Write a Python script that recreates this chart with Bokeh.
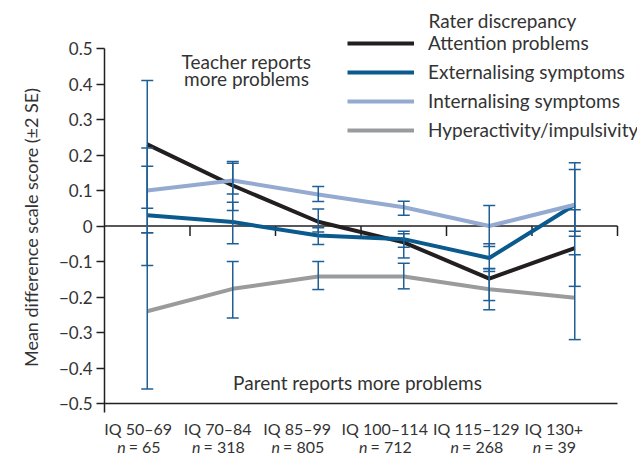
from bokeh.plotting import figure
from bokeh.models import Range1d, FixedTicker, Legend, LegendItem, Label, ColumnDataSource
from bokeh.core.properties import value
from bokeh.embed import file_html
from bokeh.resources import INLINE

# ---------------- data ----------------
categories = ["IQ 50–69", "IQ 70–84", "IQ 85–99", "IQ 100–114", "IQ 115–129", "IQ 130+"]
sample_sizes = [65, 318, 805, 712, 268, 39]

attention = [0.23, 0.114, 0.012, -0.046, -0.148, -0.062]
attention_lower = [0.05, 0.044, -0.017, -0.09, -0.21, -0.17]
attention_upper = [0.41, 0.182, 0.048, -0.015, -0.12, 0.046]

externalising = [0.03, 0.011, -0.027, -0.037, -0.09, 0.06]
externalising_lower = [-0.111, -0.05, -0.052, -0.06, -0.128, -0.029]
externalising_upper = [0.168, 0.067, -0.005, -0.022, -0.05, 0.178]

internalising = [0.10, 0.128, 0.089, 0.053, 0.0, 0.06]
internalising_lower = [-0.019, 0.09, 0.069, 0.03, -0.058, -0.015]
internalising_upper = [0.22, 0.177, 0.111, 0.07, 0.058, 0.159]

hyperactivity = [-0.24, -0.177, -0.142, -0.142, -0.178, -0.202]
hyperactivity_lower = [-0.459, -0.259, -0.179, -0.177, -0.236, -0.32]
hyperactivity_upper = [-0.019, -0.10, -0.10, -0.105, -0.12, -0.081]

series_names = ["Attention problems", "Externalising symptoms",
                "Internalising symptoms", "Hyperactivity/impulsivity"]

y_ticks = [-0.5, -0.4, -0.3, -0.2, -0.1, 0, 0.1, 0.2, 0.3, 0.4, 0.5]
y_tick_labels = ["−0.5", "−0.4", "−0.3", "−0.2", "−0.1", "0",
                 "0.1", "0.2", "0.3", "0.4", "0.5"]

# ---------------- style ----------------
FONT = "Lato"
TEXT = "#333333"
AXIS = "#231f20"
ERR = "#1f5f96"
colors = ["#231f20", "#0b5a8e", "#94aad0", "#9a9b9d"]
label_nudge = [-9, -15, -21, -19, -13, -21]   # horizontal nudge of category labels (px)

W, H = 637, 454
LEFT = 104                  # frame left (y axis)
PLOT_RIGHT = 617            # where the category area ends
PX_PER_UNIT = 355           # vertical scale
Y0_PIX = 225.5              # pixel row of y = 0

n_cat = len(categories)
x = [i + 0.5 for i in range(n_cat)]
boundaries = [i + 1 for i in range(n_cat)]
cat_w = (PLOT_RIGHT - LEFT) / n_cat

x_end = (W - LEFT) / cat_w
y_top = Y0_PIX / PX_PER_UNIT
y_bot = -(H - Y0_PIX) / PX_PER_UNIT

p = figure(width=W, height=H,
           x_range=Range1d(0, x_end), y_range=Range1d(y_bot, y_top),
           output_backend="svg", toolbar_location=None,
           min_border_left=LEFT, min_border_right=0,
           min_border_top=0, min_border_bottom=0)
p.outline_line_color = None
p.grid.visible = False
p.xaxis.visible = False


def py(pix):
    """pixel row -> data value"""
    return (Y0_PIX - pix) / PX_PER_UNIT


# zero line and bottom axis line
y_min = y_ticks[0]
p.segment(x0=[0, 0], y0=[0, y_min], x1=[n_cat, n_cat], y1=[0, y_min],
          line_color=AXIS, line_width=1.5)
tick_len = 10 / PX_PER_UNIT
p.segment(x0=boundaries, y0=[0] * n_cat, x1=boundaries, y1=[-tick_len] * n_cat,
          line_color=AXIS, line_width=1.5)

values = [attention, externalising, internalising, hyperactivity]
lowers = [attention_lower, externalising_lower, internalising_lower, hyperactivity_lower]
uppers = [attention_upper, externalising_upper, internalising_upper, hyperactivity_upper]

items = []
for name, vals, col in zip(series_names, values, colors):
    r = p.line(x, vals, line_color=col, line_width=4, line_join="round")
    items.append(LegendItem(label=name, renderers=[r]))

for lo, up in zip(lowers, uppers):
    p.segment(x0=x, y0=lo, x1=x, y1=up, line_color=ERR, line_width=1.5)
    p.scatter(x, lo, marker="dash", size=12, line_color=ERR, line_width=1.5)
    p.scatter(x, up, marker="dash", size=12, line_color=ERR, line_width=1.5)

legend = Legend(items=items, location=(347 - LEFT, H - 141), padding=0, margin=0,
                spacing=6, glyph_width=67, glyph_height=20, label_standoff=14,
                label_text_font=FONT, label_text_font_size="19px",
                label_text_color=TEXT, background_fill_alpha=0,
                border_line_color=None)
p.add_layout(legend, "center")

p.add_layout(Label(x=(428 - LEFT) / cat_w, y=py(20), text="Rater discrepancy",
                   text_font=FONT, text_font_size="19px", text_color=TEXT,
                   text_baseline="alphabetic", text_align="left"))

for txt, base in [("Teacher reports", 61), ("more problems", 78)]:
    p.add_layout(Label(x=(246 - LEFT) / cat_w, y=py(base), text=txt, text_font=FONT,
                       text_font_size="19px", text_color=TEXT, text_align="center",
                       text_baseline="alphabetic"))
p.add_layout(Label(x=(357 - LEFT) / cat_w, y=py(382), text="Parent reports more problems",
                   text_font=FONT, text_font_size="19px", text_color=TEXT,
                   text_align="center", text_baseline="alphabetic"))

# category labels (two lines, italic n)
LBL = 16
em = LBL
gap = 3
n_txt = [f"= {n}" for n in sample_sizes]
rest_w = [(0.58 + 0.19 + 0.58 * len(str(n))) * em for n in sample_sizes]
n_w = 0.55 * em
joint = [s - (n_w + gap + rw) / 2 + n_w for s, rw in zip(label_nudge, rest_w)]
lab_src = ColumnDataSource(dict(x=x, cat=categories, ntxt=n_txt, shift=label_nudge,
                                joint=joint, jr=[j + gap for j in joint],
                                n=["n"] * n_cat,
                                y1=[py(428)] * n_cat, y2=[py(446)] * n_cat))
p.text(x="x", y="y1", text="cat", source=lab_src, x_offset="shift",
       text_font=value(FONT), text_font_size=f"{LBL}px", text_color=TEXT,
       text_align="center", text_baseline="alphabetic")
p.text(x="x", y="y2", text="n", source=lab_src, x_offset="joint",
       text_font=value(FONT), text_font_size=f"{LBL}px", text_color=TEXT,
       text_font_style="italic", text_align="right", text_baseline="alphabetic")
p.text(x="x", y="y2", text="ntxt", source=lab_src, x_offset="jr",
       text_font=value(FONT), text_font_size=f"{LBL}px", text_color=TEXT,
       text_align="left", text_baseline="alphabetic")

# y axis
ya = p.yaxis[0]
ya.bounds = (y_min - tick_len * 0.9, y_ticks[-1])
ya.ticker = FixedTicker(ticks=y_ticks)
ya.major_label_overrides = {t: l for t, l in zip(y_ticks, y_tick_labels)}
ya.minor_tick_line_color = None
ya.major_tick_out = 8
ya.major_tick_in = 0
ya.axis_line_color = AXIS
ya.axis_line_width = 1.5
ya.major_tick_line_color = AXIS
ya.major_tick_line_width = 1.5
ya.major_label_text_font = FONT
ya.major_label_text_font_size = "17px"
ya.major_label_text_color = TEXT
ya.major_label_standoff = 4
ya.axis_label = "Mean difference scale score (±2 SE)"
ya.axis_label_text_font = FONT
ya.axis_label_text_font_size = "18px"
ya.axis_label_text_font_style = "normal"
ya.axis_label_text_color = TEXT
ya.axis_label_standoff = 14

open("out.html", "w").write(file_html(p, INLINE))
